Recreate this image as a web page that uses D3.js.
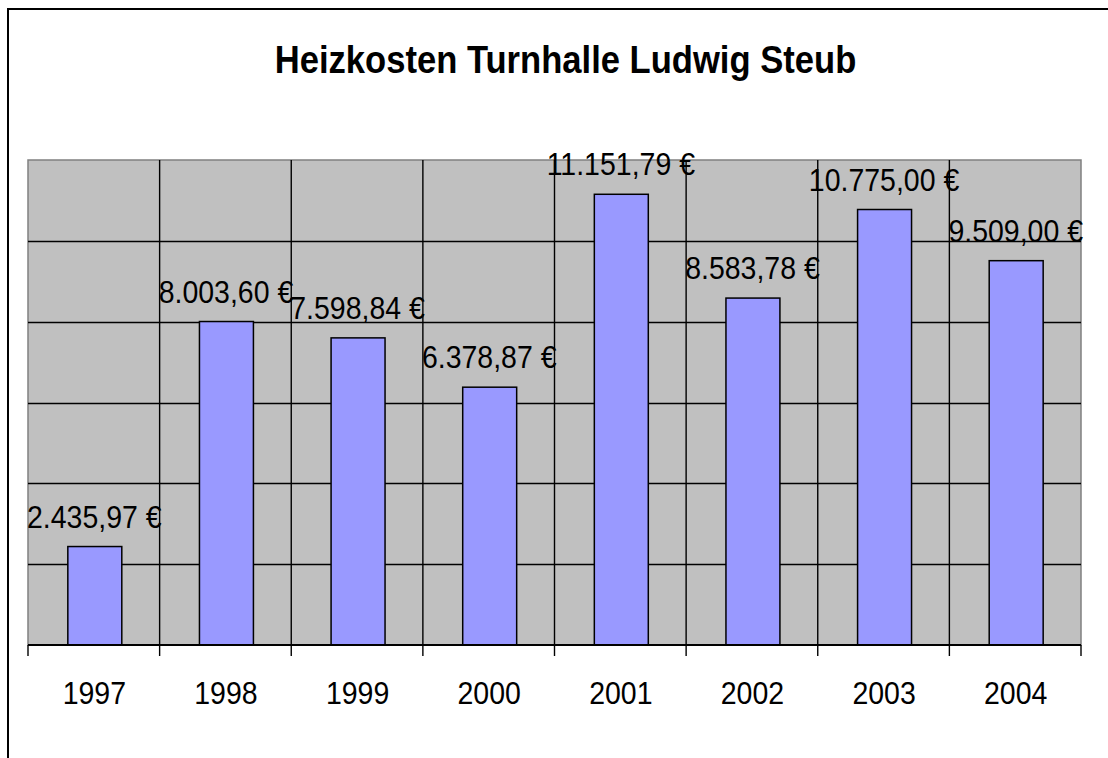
<!DOCTYPE html>
<html>
<head>
<meta charset="utf-8">
<script src="https://cdn.jsdelivr.net/npm/d3@7"></script>
<style>
  html, body { margin: 0; padding: 0; background: #fff; overflow: hidden; }
  svg { display: block; font-family: "Liberation Sans", Arial, sans-serif; }
</style>
</head>
<body>
<svg id="chart" width="1108" height="758"></svg>
<script>
const title = "Heizkosten Turnhalle Ludwig Steub";
const categories = ["1997", "1998", "1999", "2000", "2001", "2002", "2003", "2004"];
const values = [2435.97, 8003.60, 7598.84, 6378.87, 11151.79, 8583.78, 10775.00, 9509.00];
const yTicks = [0, 2000, 4000, 6000, 8000, 10000, 12000];

const fmt = v => {
  const s = v.toFixed(2).split(".");
  const intPart = s[0].replace(/\B(?=(\d{3})+(?!\d))/g, ".");
  return intPart + "," + s[1] + " €";
};

const svg = d3.select("#chart");
const W = 1108, H = 758;
const plot = { left: 28, right: 1081, top: 160, bottom: 645 };

svg.append("rect").attr("x", 0).attr("y", 0).attr("width", W).attr("height", H).attr("fill", "#fff");
svg.append("rect").attr("x", 8).attr("y", 9).attr("width", 1200).attr("height", 1000)
  .attr("fill", "none").attr("stroke", "#000").attr("stroke-width", 2);

const x = d3.scaleBand().domain(categories).range([plot.left, plot.right]).paddingInner(0).paddingOuter(0);
const y = d3.scaleLinear().domain([0, 12000]).range([plot.bottom, plot.top]);

svg.append("rect").attr("x", plot.left).attr("y", plot.top)
  .attr("width", plot.right - plot.left).attr("height", plot.bottom - plot.top)
  .attr("fill", "#c0c0c0").attr("stroke", "#808080").attr("stroke-width", 1.5);

svg.append("g").selectAll("line").data(yTicks.filter(t => t > 0 && t < 12000)).join("line")
  .attr("x1", plot.left).attr("x2", plot.right)
  .attr("y1", d => Math.round(y(d)) + 0.5).attr("y2", d => Math.round(y(d)) + 0.5)
  .attr("stroke", "#000").attr("stroke-width", 1.4);

const bounds = categories.map(c => x(c)).concat([x(categories[categories.length - 1]) + x.bandwidth()]);
svg.append("g").selectAll("line").data(bounds.slice(1, -1)).join("line")
  .attr("x1", d => d).attr("x2", d => d)
  .attr("y1", plot.top).attr("y2", plot.bottom)
  .attr("stroke", "#000").attr("stroke-width", 1.4);

const barW = x.bandwidth() * 0.41;
svg.append("g").selectAll("rect").data(values).join("rect")
  .attr("x", (d, i) => x(categories[i]) + x.bandwidth() / 2 - barW / 2 + 1)
  .attr("y", d => y(d))
  .attr("width", barW)
  .attr("height", d => plot.bottom - y(d))
  .attr("fill", "#9999ff").attr("stroke", "#000").attr("stroke-width", 1.5);

svg.append("line").attr("x1", plot.left).attr("x2", plot.right)
  .attr("y1", plot.bottom).attr("y2", plot.bottom)
  .attr("stroke", "#000").attr("stroke-width", 2);
svg.append("g").selectAll("line").data(bounds).join("line")
  .attr("x1", d => d).attr("x2", d => d)
  .attr("y1", plot.bottom).attr("y2", plot.bottom + 11)
  .attr("stroke", "#000").attr("stroke-width", 1.4);

svg.append("g").selectAll("text").data(categories).join("text")
  .attr("transform", d => `translate(${x(d) + x.bandwidth() / 2 + 0.5},704) scale(1,1.1)`)
  .attr("text-anchor", "middle").attr("font-size", 28.5).attr("fill", "#000")
  .text(d => d);

svg.append("g").selectAll("text").data(values).join("text")
  .attr("transform", (d, i) => `translate(${x(categories[i]) + x.bandwidth() / 2 + 0.5},${y(d) - 19}) scale(1,1.1)`)
  .attr("text-anchor", "middle").attr("font-size", 28.5).attr("fill", "#000")
  .text(d => fmt(d));

svg.append("text")
  .attr("transform", "translate(565.5,72.5) scale(1,1.12)")
  .attr("text-anchor", "middle").attr("font-size", 34.6).attr("font-weight", "bold").attr("fill", "#000")
  .text(title);
</script>
</body>
</html>
